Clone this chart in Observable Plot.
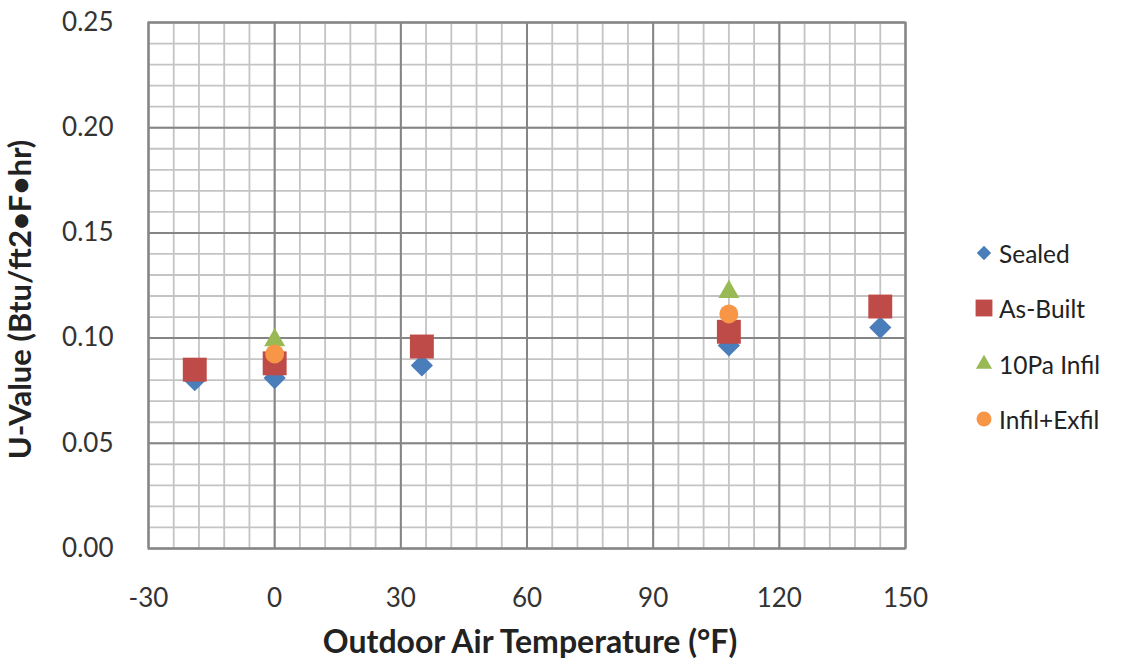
<!DOCTYPE html>
<html>
<head>
<meta charset="utf-8">
<script src="https://cdn.jsdelivr.net/npm/d3@7"></script>
<script src="https://cdn.jsdelivr.net/npm/@observablehq/plot@0.6"></script>
<style>
  html, body { margin: 0; padding: 0; background: #fff; }
  #wrap { position: relative; width: 1141px; height: 662px; font-family: Lato, "Open Sans", sans-serif; }
  #chart { position: absolute; left: 0; top: 0; }
  #legend { position: absolute; left: 972px; top: 0; }
  .item { position: absolute; left: 0; display: flex; align-items: center; white-space: nowrap; font-size: 24.5px; color: #222; }
  .item svg { margin-right: 3px; }
</style>
</head>
<body>
<div id="wrap"><div id="chart"></div><div id="legend"></div></div>
<script>
// ---- data ----
const seriesNames = ["Sealed", "As-Built", "10Pa Infil", "Infil+Exfil"];
const sealedTemps = [-19, 0, 35, 108, 144];
const sealedU = [0.080, 0.081, 0.087, 0.0965, 0.105];
const asBuiltTemps = [-19, 0, 35, 108, 144];
const asBuiltU = [0.085, 0.088, 0.096, 0.103, 0.115];
const infil10Temps = [0, 108];
const infil10U = [0.099, 0.122];
const infilExfilTemps = [0, 108];
const infilExfilU = [0.0925, 0.1115];

const xTicks = [-30, 0, 30, 60, 90, 120, 150];
const xMinorTicks = d3.range(-30, 151, 6);
const yTicks = [0, 0.05, 0.10, 0.15, 0.20, 0.25];
const yMinorTicks = d3.range(0, 0.2501, 0.01).map(v => +v.toFixed(2));

const colors = ["#4a7ebb", "#be4b48", "#98b954", "#f79646"];
const symbols = ["diamond2", "square", "triangle", "circle"];
const radii = [10, 13.5, 7.8, 9.5];

const toRows = (temps, vals, s) => temps.map((t, i) => ({temp: t, u: vals[i], series: s}));
const groups = [
  toRows(sealedTemps, sealedU, seriesNames[0]),
  toRows(asBuiltTemps, asBuiltU, seriesNames[1]),
  toRows(infil10Temps, infil10U, seriesNames[2]),
  toRows(infilExfilTemps, infilExfilU, seriesNames[3])
];

const chart = Plot.plot({
  width: 940,
  height: 662,
  marginLeft: 148,
  marginRight: 35,
  marginTop: 22,
  marginBottom: 114,
  style: {fontFamily: "Lato, 'Open Sans', sans-serif", fontSize: "26px", color: "#333", background: "#fff"},
  x: {domain: [-30, 150]},
  y: {domain: [0, 0.25]},
  marks: [
    Plot.gridX(xMinorTicks, {stroke: "#c4c4c4", strokeOpacity: 1, strokeWidth: 1.8}),
    Plot.gridY(yMinorTicks, {stroke: "#c4c4c4", strokeOpacity: 1, strokeWidth: 1.8}),
    Plot.gridX(xTicks, {stroke: "#858585", strokeOpacity: 1, strokeWidth: 2}),
    Plot.gridY(yTicks, {stroke: "#858585", strokeOpacity: 1, strokeWidth: 2}),
    Plot.frame({stroke: "#858585", strokeWidth: 2}),
    Plot.axisX(xTicks, {tickSize: 0, tickPadding: 40, label: null, fill: "#333", tickFormat: d => String(d)}),
    Plot.axisY(yTicks, {tickSize: 0, tickPadding: 35, label: null, tickFormat: d3.format(".2f"), fill: "#333"}),
    ...groups.map((g, i) => Plot.dot(g, {
      x: "temp", y: "u", symbol: () => symbols[i], r: radii[i], fill: colors[i], stroke: "none"
    })),
    Plot.text(["Outdoor Air Temperature (°F)"], {frameAnchor: "bottom", dx: 3, dy: 104, text: d => d, fontWeight: "bold", fontSize: 32, fill: "#222"}),
    Plot.text(["U-Value (Btu/ft2•F•hr)"], {frameAnchor: "left", textAnchor: "middle", dx: -127, dy: 14, rotate: -90, text: d => d, fontWeight: "bold", fontSize: 31, fill: "#222"})
  ]
});
document.getElementById("chart").appendChild(chart);

// ---- legend ----
const legend = d3.select("#legend");
const legendY = [253, 308, 364, 419];
const legendR = [6.5, 9.5, 6, 7.5];
seriesNames.forEach((name, i) => {
  const item = legend.append("div").attr("class", "item").style("top", (legendY[i] - 16) + "px");
  const svg = item.append("svg").attr("width", 24).attr("height", 32);
  const symType = [d3.symbolDiamond2, d3.symbolSquare, d3.symbolTriangle, d3.symbolCircle][i];
  svg.append("path")
    .attr("transform", "translate(12,16)")
    .attr("d", d3.symbol(symType, Math.PI * legendR[i] * legendR[i])())
    .attr("fill", colors[i]);
  item.append("span").text(name);
});
</script>
</body>
</html>
